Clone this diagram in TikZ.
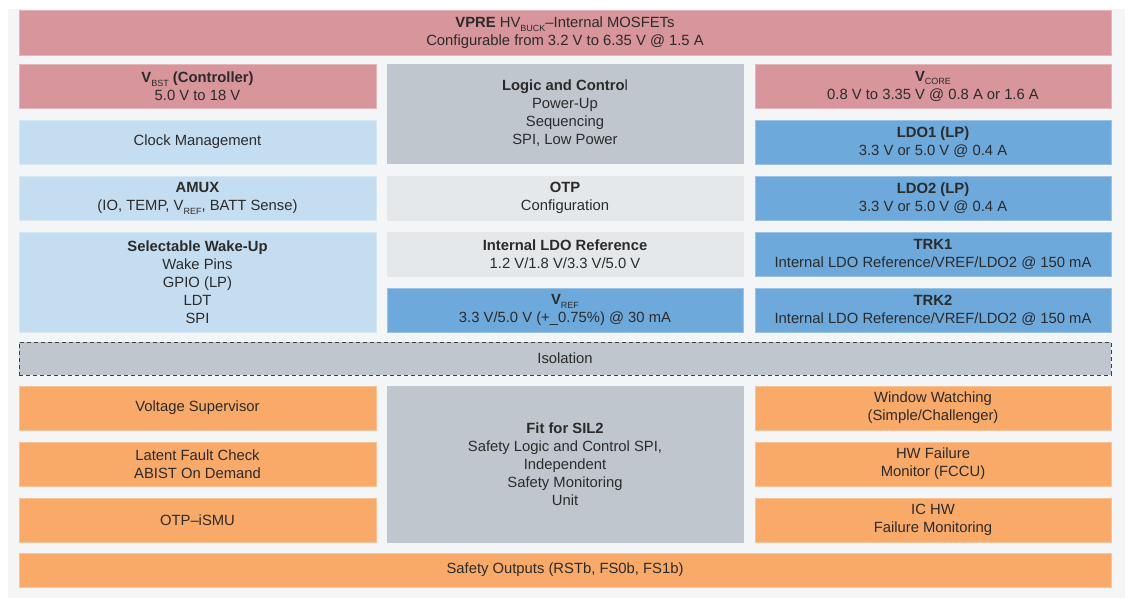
\documentclass[tikz,border=0pt]{standalone}
\usepackage{fontspec}
\setmainfont{Liberation Sans}
\definecolor{pagebg}{HTML}{F4F5F7}
\definecolor{pinkc}{HTML}{D8959B}
\definecolor{lbluec}{HTML}{C5DDF0}
\definecolor{mbluec}{HTML}{6EA9DB}
\definecolor{grayc}{HTML}{C0C6CE}
\definecolor{lgrayc}{HTML}{E4E8EB}
\definecolor{orangec}{HTML}{F9AA68}
\definecolor{txtc}{HTML}{2B2B2B}
\newcommand\lsub[1]{\raisebox{-0.5ex}{\fontsize{9}{9}\selectfont\mdseries #1}}
\tikzset{
  blk/.style={rectangle, inner sep=0pt, align=center, text=txtc,
    font=\fontsize{14.8}{18}\selectfont, line width=0.6pt},
  pinkbox/.style={blk, fill=pinkc, draw=pinkc!70!white},
  lbluebox/.style={blk, fill=lbluec, draw=lbluec!70!white},
  mbluebox/.style={blk, fill=mbluec, draw=mbluec!70!white},
  graybox/.style={blk, fill=grayc, draw=grayc},
  lgraybox/.style={blk, fill=lgrayc, draw=lgrayc},
  orangebox/.style={blk, fill=orangec, draw=orangec!70!white},
  isobox/.style={blk, fill=grayc, draw=black!75, dash pattern=on 4pt off 3pt, line width=0.9pt},
  wL/.style={minimum width=357pt},
  wM/.style={minimum width=356pt},
  wF/.style={minimum width=1092pt}
}
\begin{document}
\begin{tikzpicture}[x=1pt,y=-1pt]
\useasboundingbox (0,0) rectangle (1132,607);
\fill[white] (0,0) rectangle (1132,607);
\fill[pagebg] (8,9) rectangle (1125,598);
% top
\node[pinkbox, wF, minimum height=45pt] (vpre) at (565,32.5)
  {\textbf{VPRE} HV\lsub{BUCK}--Internal MOSFETs\\Configurable from 3.2 V to 6.35 V @ 1.5 A};
% left column
\node[pinkbox, wL, minimum height=44pt] (vbst) at (197.5,86)
  {\textbf{V\lsub{BST} (Controller)}\\5.0 V to 18 V};
\node[lbluebox, wL, minimum height=44pt] (clock) at (197.5,142) {\raisebox{-1pt}{Clock Management}};
\node[lbluebox, wL, minimum height=44pt] (amux) at (197.5,198)
  {\textbf{AMUX}\\(IO, TEMP, V\lsub{REF}, BATT Sense)};
\node[lbluebox, wL, minimum height=100pt] (wake) at (197.5,282)
  {\textbf{Selectable Wake-Up}\\Wake Pins\\GPIO (LP)\\LDT\\SPI};
% middle column
\node[graybox, wM, minimum height=99pt] (logic) at (565,113.5)
  {\textbf{Logic and Contro}l\\Power-Up\\Sequencing\\SPI, Low Power};
\node[lgraybox, wM, minimum height=44pt] (otp) at (565,198)
  {\textbf{OTP}\\Configuration};
\node[lgraybox, wM, minimum height=44pt] (ildo) at (565,254)
  {\textbf{Internal LDO Reference}\\1.2 V/1.8 V/3.3 V/5.0 V};
\node[mbluebox, wM, minimum height=44pt] (vref) at (565,310)
  {\textbf{V}\lsub{REF}\\3.3 V/5.0 V (+\_0.75\%) @ 30 mA};
% right column
\node[pinkbox, wM, minimum height=44pt] (vcore) at (933,86)
  {\textbf{V}\lsub{CORE}\\0.8 V to 3.35 V @ 0.8 A or 1.6 A};
\node[mbluebox, wM, minimum height=44pt] (ldo1) at (933,142)
  {\textbf{LDO1 (LP)}\\3.3 V or 5.0 V @ 0.4 A};
\node[mbluebox, wM, minimum height=44pt] (ldo2) at (933,198)
  {\textbf{LDO2 (LP)}\\3.3 V or 5.0 V @ 0.4 A};
\node[mbluebox, wM, minimum height=44pt] (trk1) at (933,254)
  {\textbf{TRK1}\\Internal LDO Reference/VREF/LDO2 @ 150 mA};
\node[mbluebox, wM, minimum height=44pt] (trk2) at (933,310)
  {\textbf{TRK2}\\Internal LDO Reference/VREF/LDO2 @ 150 mA};
% isolation
\node[isobox, wF, minimum height=33pt] (iso) at (565,358.5) {Isolation};
% safety part
\node[orangebox, wL, minimum height=44pt] (vsup) at (197.5,408) {\raisebox{-1pt}{Voltage Supervisor}};
\node[orangebox, wL, minimum height=44pt] (latent) at (197.5,464)
  {Latent Fault Check\\ABIST On Demand};
\node[orangebox, wL, minimum height=44pt] (otpismu) at (197.5,520) {\raisebox{-1pt}{OTP--iSMU}};
\node[graybox, wM, minimum height=156pt] (sil2) at (565,464)
  {\textbf{Fit for SIL2}\\Safety Logic and Control SPI,\\Independent\\Safety Monitoring\\Unit};
\node[orangebox, wM, minimum height=44pt] (window) at (933,408)
  {Window Watching\\(Simple/Challenger)};
\node[orangebox, wM, minimum height=44pt] (hwfail) at (933,464)
  {HW Failure\\Monitor (FCCU)};
\node[orangebox, wM, minimum height=44pt] (ichw) at (933,520)
  {IC HW\\Failure Monitoring};
\node[orangebox, wF, minimum height=34pt] (safety) at (565,570)
  {Safety Outputs (RSTb, FS0b, FS1b)};
\end{tikzpicture}
\end{document}
